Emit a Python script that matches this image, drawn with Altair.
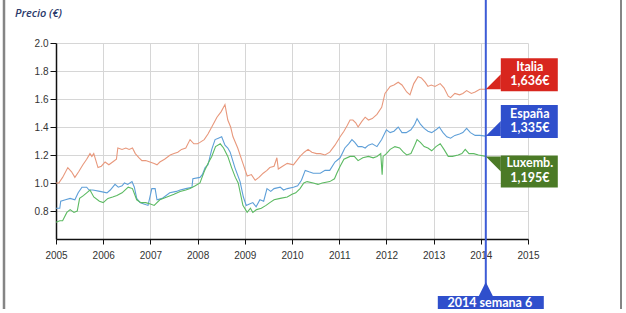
import altair as alt
import pandas as pd

# ---------------- data ----------------
ita_t = [2005.00, 2005.06, 2005.14, 2005.25, 2005.33, 2005.40, 2005.48, 2005.57, 2005.65, 2005.72,
         2005.76, 2005.80, 2005.89, 2005.96, 2006.04, 2006.12, 2006.20, 2006.28, 2006.31, 2006.40,
         2006.48, 2006.55, 2006.62, 2006.68, 2006.76, 2006.82, 2006.90, 2006.99, 2007.08, 2007.14,
         2007.20, 2007.30, 2007.42, 2007.50, 2007.58, 2007.66, 2007.75, 2007.84, 2007.92, 2008.00,
         2008.05, 2008.14, 2008.22, 2008.30, 2008.41, 2008.50, 2008.58, 2008.64, 2008.70, 2008.75,
         2008.85, 2008.96, 2009.05, 2009.14, 2009.22, 2009.30, 2009.39, 2009.47, 2009.53, 2009.62,
         2009.68, 2009.71, 2009.80, 2009.90, 2010.03, 2010.10, 2010.17, 2010.26, 2010.34, 2010.42,
         2010.52, 2010.60, 2010.70, 2010.80, 2010.91, 2011.02, 2011.10, 2011.17, 2011.23, 2011.29,
         2011.35, 2011.40, 2011.48, 2011.55, 2011.62, 2011.70, 2011.80, 2011.90, 2011.97, 2012.08,
         2012.16, 2012.25, 2012.33, 2012.43, 2012.50, 2012.58, 2012.67, 2012.74, 2012.82, 2012.88,
         2012.95, 2013.03, 2013.14, 2013.22, 2013.31, 2013.36, 2013.45, 2013.55, 2013.62, 2013.70,
         2013.80, 2013.88, 2013.98, 2014.106]
ita_v = [1.00, 1.00, 1.04, 1.11, 1.08, 1.04, 1.08, 1.13, 1.17, 1.21,
         1.19, 1.21, 1.11, 1.12, 1.15, 1.13, 1.15, 1.17, 1.25, 1.24,
         1.25, 1.24, 1.25, 1.21, 1.18, 1.16, 1.16, 1.15, 1.14, 1.13,
         1.15, 1.17, 1.20, 1.21, 1.22, 1.24, 1.25, 1.31, 1.28, 1.28,
         1.29, 1.31, 1.35, 1.40, 1.47, 1.51, 1.56, 1.45, 1.40, 1.33,
         1.25, 1.14, 1.05, 1.06, 1.02, 1.04, 1.07, 1.09, 1.11, 1.12,
         1.18, 1.10, 1.12, 1.14, 1.13, 1.16, 1.19, 1.22, 1.24, 1.22,
         1.21, 1.21, 1.20, 1.22, 1.27, 1.33, 1.37, 1.41, 1.45, 1.45,
         1.43, 1.40, 1.44, 1.47, 1.45, 1.46, 1.49, 1.54, 1.64, 1.69,
         1.70, 1.72, 1.70, 1.65, 1.63, 1.71, 1.76, 1.75, 1.72, 1.69,
         1.70, 1.69, 1.71, 1.68, 1.62, 1.61, 1.64, 1.63, 1.64, 1.66,
         1.64, 1.65, 1.67, 1.67]

esp_t = [2005.00, 2005.08, 2005.10, 2005.20, 2005.30, 2005.40, 2005.47, 2005.55, 2005.65, 2005.70,
         2005.78, 2005.93, 2006.08, 2006.15, 2006.25, 2006.32, 2006.40, 2006.45, 2006.52, 2006.61,
         2006.66, 2006.71, 2006.78, 2006.86, 2006.95, 2007.03, 2007.10, 2007.14, 2007.25, 2007.41,
         2007.55, 2007.63, 2007.75, 2007.88, 2007.90, 2008.05, 2008.10, 2008.16, 2008.22, 2008.30,
         2008.37, 2008.44, 2008.51, 2008.58, 2008.64, 2008.69, 2008.79, 2008.90, 2008.97, 2009.03,
         2009.10, 2009.17, 2009.24, 2009.32, 2009.40, 2009.47, 2009.55, 2009.62, 2009.75, 2009.82,
         2009.90, 2010.03, 2010.12, 2010.20, 2010.28, 2010.36, 2010.45, 2010.60, 2010.70, 2010.80,
         2010.91, 2011.02, 2011.12, 2011.20, 2011.27, 2011.33, 2011.40, 2011.48, 2011.55, 2011.62,
         2011.70, 2011.80, 2011.90, 2012.00, 2012.08, 2012.16, 2012.25, 2012.33, 2012.42, 2012.52,
         2012.60, 2012.65, 2012.72, 2012.80, 2012.88, 2012.96, 2013.05, 2013.12, 2013.20, 2013.28,
         2013.36, 2013.45, 2013.55, 2013.62, 2013.70, 2013.78, 2013.88, 2013.98, 2014.106]
esp_v = [0.82, 0.82, 0.87, 0.88, 0.89, 0.88, 0.93, 0.97, 0.97, 0.95,
         0.95, 0.94, 0.93, 0.95, 0.99, 0.97, 0.98, 1.00, 0.99, 1.01,
         0.97, 0.89, 0.86, 0.85, 0.84, 0.96, 0.96, 0.88, 0.89, 0.93,
         0.94, 0.95, 0.96, 0.97, 1.03, 1.04, 1.06, 1.11, 1.13, 1.24,
         1.31, 1.32, 1.33, 1.27, 1.25, 1.22, 1.11, 1.01, 0.90, 0.84,
         0.85, 0.86, 0.83, 0.88, 0.87, 0.96, 0.94, 0.96, 0.97, 0.95,
         0.96, 0.97, 0.98, 1.02, 1.09, 1.08, 1.07, 1.07, 1.09, 1.09,
         1.15, 1.18, 1.25, 1.28, 1.31, 1.29, 1.26, 1.26, 1.25, 1.27,
         1.28, 1.26, 1.31, 1.38, 1.36, 1.37, 1.40, 1.36, 1.36, 1.38,
         1.42, 1.46, 1.42, 1.39, 1.37, 1.36, 1.38, 1.40, 1.36, 1.33,
         1.32, 1.34, 1.35, 1.36, 1.39, 1.36, 1.34, 1.34, 1.335]

lux_t = [2005.00, 2005.08, 2005.14, 2005.23, 2005.30, 2005.38, 2005.45, 2005.50, 2005.58, 2005.65,
         2005.72, 2005.80, 2005.92, 2006.00, 2006.10, 2006.20, 2006.29, 2006.40, 2006.53, 2006.62,
         2006.71, 2006.80, 2006.90, 2007.00, 2007.08, 2007.20, 2007.35, 2007.50, 2007.63, 2007.75,
         2007.84, 2007.95, 2008.05, 2008.15, 2008.22, 2008.30, 2008.38, 2008.48, 2008.55, 2008.64,
         2008.72, 2008.80, 2008.86, 2008.96, 2009.05, 2009.12, 2009.17, 2009.25, 2009.35, 2009.45,
         2009.53, 2009.62, 2009.75, 2009.90, 2010.00, 2010.08, 2010.17, 2010.25, 2010.32, 2010.45,
         2010.55, 2010.64, 2010.80, 2010.90, 2010.95, 2011.02, 2011.10, 2011.23, 2011.32, 2011.40,
         2011.50, 2011.62, 2011.72, 2011.80, 2011.88, 2011.91, 2011.93, 2012.00, 2012.08, 2012.18,
         2012.28, 2012.36, 2012.43, 2012.52, 2012.60, 2012.65, 2012.72, 2012.80, 2012.88, 2012.96,
         2013.05, 2013.14, 2013.22, 2013.31, 2013.40, 2013.52, 2013.60, 2013.67, 2013.75, 2013.85,
         2013.95, 2014.106]
lux_v = [0.72, 0.73, 0.73, 0.79, 0.81, 0.79, 0.80, 0.89, 0.91, 0.93,
         0.95, 0.90, 0.87, 0.86, 0.89, 0.90, 0.91, 0.93, 0.97, 0.96,
         0.88, 0.86, 0.86, 0.85, 0.84, 0.88, 0.90, 0.92, 0.94, 0.95,
         0.96, 0.98, 1.00, 1.09, 1.14, 1.19, 1.26, 1.28, 1.25, 1.19,
         1.11, 1.04, 1.00, 0.84, 0.79, 0.82, 0.79, 0.81, 0.82, 0.84,
         0.86, 0.88, 0.89, 0.90, 0.92, 0.93, 0.96, 1.00, 1.01, 1.00,
         0.99, 1.00, 1.01, 1.03, 1.07, 1.12, 1.17, 1.19, 1.19, 1.16,
         1.18, 1.19, 1.18, 1.19, 1.21, 1.06, 1.19, 1.21, 1.24, 1.26,
         1.25, 1.22, 1.20, 1.21, 1.27, 1.31, 1.29, 1.26, 1.25, 1.23,
         1.26, 1.28, 1.24, 1.19, 1.19, 1.20, 1.21, 1.24, 1.21, 1.21,
         1.20, 1.19]

series_names = ["Italia", "España", "Luxemb."]
line_colors = ["#e8987c", "#5e9fd8", "#5cba62"]
box_colors = ["#d8261e", "#2f4fcc", "#4b7a26"]
prices = ["1,636€", "1,335€", "1,195€"]
year_ticks = list(range(2005, 2016))
price_ticks = [0.8, 1.0, 1.2, 1.4, 1.6, 1.8, 2.0]
marker_t = 2014.106
marker_text = "2014 semana 6"
y_title = "Precio (€)"

# ---------------- tables ----------------
rows = []
for name, ts, vs in zip(series_names, [ita_t, esp_t, lux_t], [ita_v, esp_v, lux_v]):
    for t, v in zip(ts, vs):
        rows.append({"serie": name, "t": t, "v": v})
df = pd.DataFrame(rows)

ends = [ita_v[-1], esp_v[-1], lux_v[-1]]
lab = pd.DataFrame({"serie": series_names, "t": [marker_t] * 3, "v": ends,
                    "price": prices, "col": box_colors})
lab_up = lab[lab["serie"] != "Luxemb."]
lab_dn = lab[lab["serie"] == "Luxemb."]
mk = pd.DataFrame({"t": [marker_t], "txt": [marker_text]})
one = pd.DataFrame({"a": [0]})

xs = alt.Scale(domain=[2005, 2015], nice=False, zero=False)
ys = alt.Scale(domain=[0.6, 2.0], nice=False, zero=False)

X_axis = alt.Axis(values=year_ticks, format="d", title=None, tickSize=5, labelPadding=6,
                  grid=True, labelFlush=False, labelOverlap=False)
Y_axis = alt.Axis(values=price_ticks, format=".1f", title=None, tickSize=6, labelPadding=2,
                  grid=True, labelFlush=False, labelOverlap=False)
X = alt.X("t:Q", scale=xs, axis=X_axis)
Y = alt.Y("v:Q", scale=ys, axis=Y_axis)

lines = alt.Chart(df).mark_line(strokeWidth=1.1, interpolate="linear").encode(
    x=X, y=Y,
    color=alt.Color("serie:N", scale=alt.Scale(domain=series_names, range=line_colors), legend=None),
    detail="serie:N",
)

vline = alt.Chart(mk).mark_rule(color="#3d5cd6", strokeWidth=2).encode(
    x=X, y=alt.value(-43), y2=alt.value(272))

box_up = alt.Chart(lab_up).mark_rect(xOffset=15, x2Offset=72, yOffset=-31, y2Offset=2).encode(
    x=X, x2="t:Q", y=Y, y2="v:Q", color=alt.Color("col:N", scale=None))
tri_up = alt.Chart(lab_up).mark_point(shape="M0,0L1,-1L1,0Z", size=900, filled=True,
                                      opacity=1, strokeWidth=0).encode(
    x=X, y=Y, color=alt.Color("col:N", scale=None))
name_up = alt.Chart(lab_up).mark_text(font="Lato", fontWeight="bold", fontSize=12.5, color="white",
                                      dx=44, dy=-22).encode(x=X, y=Y, text="serie:N")
price_up = alt.Chart(lab_up).mark_text(font="Lato", fontWeight="bold", fontSize=12.5, color="white",
                                       dx=44, dy=-8).encode(x=X, y=Y, text="price:N")

box_dn = alt.Chart(lab_dn).mark_rect(xOffset=15, x2Offset=72, yOffset=-1, y2Offset=31).encode(
    x=X, x2="t:Q", y=Y, y2="v:Q", color=alt.Color("col:N", scale=None))
tri_dn = alt.Chart(lab_dn).mark_point(shape="M0,0L1,1L1,0Z", size=900, filled=True,
                                      opacity=1, strokeWidth=0).encode(
    x=X, y=Y, color=alt.Color("col:N", scale=None))
name_dn = alt.Chart(lab_dn).mark_text(font="Lato", fontWeight="bold", fontSize=12.5, color="white",
                                      dx=44, dy=7).encode(x=X, y=Y, text="serie:N")
price_dn = alt.Chart(lab_dn).mark_text(font="Lato", fontWeight="bold", fontSize=12.5, color="white",
                                       dx=44, dy=22).encode(x=X, y=Y, text="price:N")

mk_box = alt.Chart(mk).mark_rect(color="#2f4fcc", xOffset=-48, x2Offset=58).encode(
    x=X, x2="t:Q", y=alt.value(253), y2=alt.value(272))
mk_tri = alt.Chart(mk).mark_point(shape="M0,0L-0.5,1L0.5,1Z", size=784, filled=True, opacity=1,
                                  strokeWidth=0, color="#2f4fcc").encode(x=X, y=alt.value(239))
mk_txt = alt.Chart(mk).mark_text(font="Lato", fontWeight="bold", fontSize=12.5, color="white",
                                 dx=4).encode(x=X, y=alt.value(260), text="txt:N")

title = alt.Chart(one).mark_text(text=y_title, font="Open Sans", fontStyle="italic", fontSize=11,
                                 fontWeight=600, color="#2b3a6b", align="left",
                                 baseline="middle").encode(
    x=alt.value(-41), y=alt.value(-29))
frame_l = alt.Chart(one).mark_rule(color="#858585", strokeWidth=2.5).encode(
    x=alt.value(-52), y=alt.value(-43), y2=alt.value(270))
frame_r = alt.Chart(one).mark_rule(color="#858585", strokeWidth=2).encode(
    x=alt.value(565), y=alt.value(-43), y2=alt.value(270))

chart = alt.layer(
    lines, vline, tri_up, box_up, name_up, price_up, tri_dn, box_dn, name_dn, price_dn,
    mk_tri, mk_box, mk_txt, title, frame_l, frame_r
).properties(
    width=472, height=196,
    autosize=alt.AutoSizeParams(type="none"),
    padding={"left": 56, "top": 43, "right": 98, "bottom": 70},
).configure_view(strokeWidth=0).configure_axis(
    labelFont="Liberation Sans", labelFontSize=10, labelColor="#333333",
    domainColor="#111111", domainWidth=1.5, tickColor="#111111", tickWidth=1,
    gridColor="#d6d6d6", gridWidth=1,
)

chart.save("out.html", embed_options={"renderer": "svg", "actions": False})
